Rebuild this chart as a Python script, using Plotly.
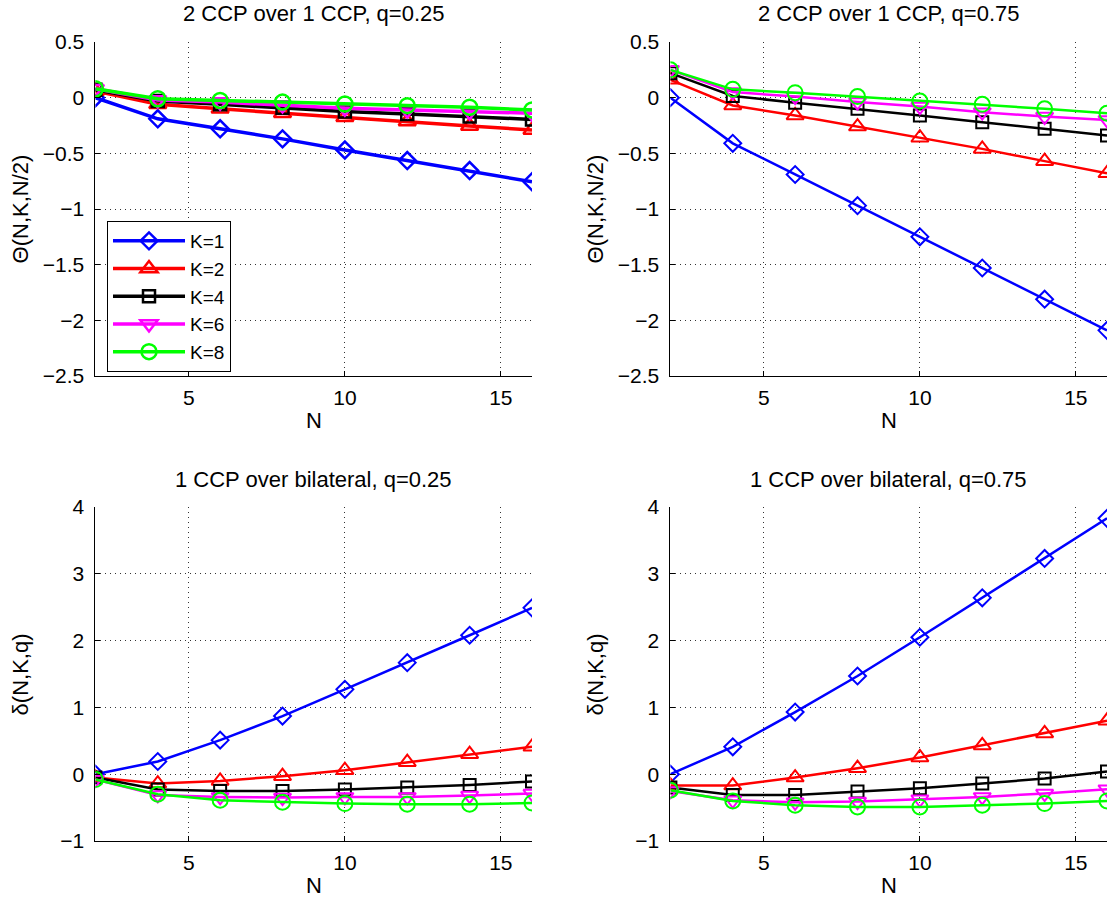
import plotly.graph_objects as go

# ---------------- data ----------------
N = [2, 4, 6, 8, 10, 12, 14, 16]
K_labels = ["K=1", "K=2", "K=4", "K=6", "K=8"]

theta_q025_K1 = [0, -0.19, -0.28, -0.37, -0.47, -0.565, -0.655, -0.755]
theta_q025_K2 = [0.06, -0.06, -0.10, -0.14, -0.176, -0.215, -0.255, -0.29]
theta_q025_K4 = [0.07, -0.03, -0.06, -0.09, -0.125, -0.146, -0.17, -0.195]
theta_q025_K6 = [0.08, -0.02, -0.04, -0.065, -0.095, -0.11, -0.126, -0.14]
theta_q025_K8 = [0.08, -0.01, -0.025, -0.04, -0.057, -0.072, -0.086, -0.11]

theta_q075_K1 = [0, -0.41, -0.69, -0.97, -1.25, -1.53, -1.81, -2.09]
theta_q075_K2 = [0.16, -0.07, -0.16, -0.26, -0.36, -0.46, -0.57, -0.68]
theta_q075_K4 = [0.22, 0.015, -0.045, -0.10, -0.16, -0.22, -0.28, -0.34]
theta_q075_K6 = [0.25, 0.05, 0.01, -0.04, -0.08, -0.13, -0.17, -0.20]
theta_q075_K8 = [0.25, 0.075, 0.045, 0.01, -0.03, -0.06, -0.10, -0.14]

delta_q025_K1 = [0, 0.19, 0.51, 0.87, 1.27, 1.67, 2.08, 2.49]
delta_q025_K2 = [-0.05, -0.14, -0.10, -0.03, 0.06, 0.18, 0.30, 0.41]
delta_q025_K4 = [-0.05, -0.23, -0.25, -0.25, -0.23, -0.20, -0.16, -0.11]
delta_q025_K6 = [-0.08, -0.31, -0.34, -0.35, -0.34, -0.34, -0.32, -0.29]
delta_q025_K8 = [-0.08, -0.30, -0.39, -0.42, -0.44, -0.45, -0.45, -0.43]

delta_q075_K1 = [0, 0.41, 0.93, 1.47, 2.05, 2.64, 3.23, 3.83]
delta_q075_K2 = [-0.17, -0.17, -0.05, 0.09, 0.25, 0.43, 0.61, 0.80]
delta_q075_K4 = [-0.20, -0.31, -0.31, -0.26, -0.21, -0.14, -0.065, 0.04]
delta_q075_K6 = [-0.25, -0.39, -0.42, -0.41, -0.375, -0.34, -0.29, -0.225]
delta_q075_K8 = [-0.24, -0.40, -0.465, -0.49, -0.49, -0.465, -0.44, -0.40]

titles = ["2 CCP over 1 CCP, q=0.25", "2 CCP over 1 CCP, q=0.75",
          "1 CCP over bilateral, q=0.25", "1 CCP over bilateral, q=0.75"]
ylabels = ["\u0398(N,K,N/2)", "\u0398(N,K,N/2)", "\u03b4(N,K,q)", "\u03b4(N,K,q)"]
xlabel = "N"

x_tickvals = [5, 10, 15]
theta_tickvals = [0.5, 0, -0.5, -1, -1.5, -2, -2.5]
theta_ticktext = ["0.5", "0", "\u22120.5", "\u22121", "\u22121.5", "\u22122", "\u22122.5"]
delta_tickvals = [4, 3, 2, 1, 0, -1]
delta_ticktext = ["4", "3", "2", "1", "0", "\u22121"]

# ---------------- styles ----------------
colors = ["#0000FF", "#FF0000", "#000000", "#FF00FF", "#00FF00"]
symbols = ["diamond-open", "triangle-up-open", "square-open", "triangle-down-open", "circle-open"]
msizes = [13, 15, 12, 15, 15]
FONT = "Liberation Sans, Arial, Helvetica, sans-serif"
FS = 22
FS_TICK = 21
FS_LEG = 19

panels = [
    [theta_q025_K1, theta_q025_K2, theta_q025_K4, theta_q025_K6, theta_q025_K8],
    [theta_q075_K1, theta_q075_K2, theta_q075_K4, theta_q075_K6, theta_q075_K8],
    [delta_q025_K1, delta_q025_K2, delta_q025_K4, delta_q025_K6, delta_q025_K8],
    [delta_q075_K1, delta_q075_K2, delta_q075_K4, delta_q075_K6, delta_q075_K8],
]

W, H = 1118, 900
# pixel boxes for axes in the target picture: (left, right, top, bottom)
boxes = [(95.4, 532.0, 42, 376), (670.4, 1107.0, 42, 376),
         (95.4, 532.0, 507, 841), (670.4, 1107.0, 507, 841)]


def px(x):
    return x / W


def py(y):
    return 1 - y / H


fig = go.Figure()
for p, series in enumerate(panels):
    lw = 3.5 if p == 0 else 2.5
    mlw = 2.5 if p == 0 else 2
    for k, ys in enumerate(series):
        fig.add_trace(go.Scatter(
            x=N, y=ys, mode="lines+markers", name=K_labels[k],
            xaxis="x" if p == 0 else f"x{p+1}",
            yaxis="y" if p == 0 else f"y{p+1}",
            line=dict(color=colors[k], width=lw),
            marker=dict(symbol=symbols[k], size=msizes[k], color=colors[k],
                        line=dict(color=colors[k], width=mlw)),
            showlegend=(p == 0),
        ))

layout = dict(
    width=W, height=H,
    margin=dict(l=0, r=0, t=0, b=0),
    paper_bgcolor="white", plot_bgcolor="white",
    font=dict(family=FONT, size=FS, color="black"),
    showlegend=True,
    legend=dict(x=px(107), y=py(221), xanchor="left", yanchor="top",
                bgcolor="white", bordercolor="black", borderwidth=1,
                font=dict(family=FONT, size=FS_LEG, color="black"),
                tracegroupgap=0, itemwidth=72),
)

annotations = []
for p, (l, r, t, b) in enumerate(boxes):
    suffix = "" if p == 0 else str(p + 1)
    xd = [px(l), px(r)]
    yd = [py(b), py(t)]
    if p < 2:
        yr, tv, tt = [-2.5, 0.5], theta_tickvals, theta_ticktext
    else:
        yr, tv, tt = [-1, 4], delta_tickvals, delta_ticktext
    common = dict(showline=True, linecolor="black", linewidth=1,
                  ticks="inside", ticklen=5, tickcolor="black",
                  showgrid=True, gridcolor="#333333", gridwidth=1, griddash="1px,4px",
                  zeroline=False, automargin=False,
                  tickfont=dict(family=FONT, size=FS_TICK, color="black"))
    layout["xaxis" + suffix] = dict(domain=xd, range=[2, 16], tickvals=x_tickvals,
                                    anchor="y" + suffix, ticklabelstandoff=3, **common)
    layout["yaxis" + suffix] = dict(domain=yd, range=yr, tickvals=tv, ticktext=tt,
                                    anchor="x" + suffix, ticklabelstandoff=6, **common)
    cx = px((l + r) / 2)
    annotations.append(dict(text=titles[p], x=cx, y=py(t - 28), xref="paper", yref="paper",
                            showarrow=False, font=dict(family=FONT, size=FS, color="black"),
                            xanchor="center", yanchor="middle"))
    annotations.append(dict(text=xlabel, x=cx, y=py(b + 44), xref="paper", yref="paper",
                            showarrow=False, font=dict(family=FONT, size=FS, color="black"),
                            xanchor="center", yanchor="middle"))
    annotations.append(dict(text=ylabels[p], x=px(l - 75), y=py((t + b) / 2),
                            xref="paper", yref="paper", textangle=-90,
                            showarrow=False, font=dict(family=FONT, size=FS, color="black"),
                            xanchor="center", yanchor="middle"))
layout["annotations"] = annotations

fig.update_layout(**layout)
fig.write_html("out.html", config={"displayModeBar": False},
               post_script="document.body.style.margin='0';")
